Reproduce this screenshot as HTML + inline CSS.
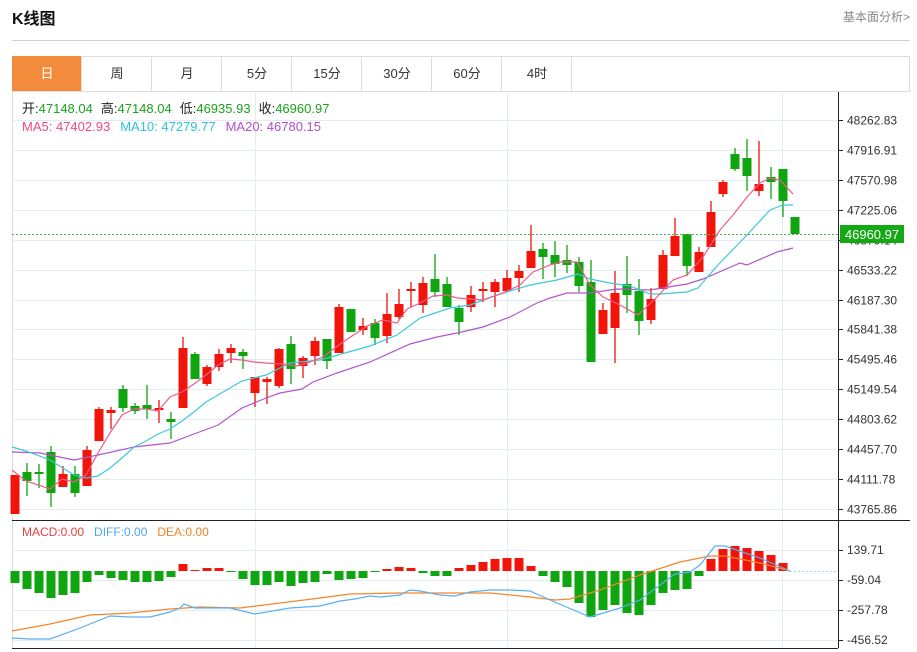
<!DOCTYPE html>
<html><head><meta charset="utf-8">
<style>
body{margin:0;background:#fff;width:917px;height:652px;overflow:hidden;font-family:"Liberation Sans","Noto Sans CJK SC",sans-serif;}
svg{position:absolute;left:0;top:0}
</style></head><body>
<svg id="s" width="917" height="652" xmlns="http://www.w3.org/2000/svg" font-family="Liberation Sans, Noto Sans CJK SC, sans-serif">
<text x="12" y="24" font-size="16" font-weight="bold" fill="#111">K线图</text>
<text x="910" y="21" font-size="12" fill="#888" text-anchor="end">基本面分析&gt;</text>
<line x1="12" y1="40.5" x2="910" y2="40.5" stroke="#d0d0d0"/>
<rect x="12.5" y="56.5" width="897" height="35" fill="#fff" stroke="#ddd"/>
<rect x="12" y="56" width="70" height="35" fill="#f28c3c"/>
<g stroke="#ddd"><line x1="81.5" y1="56" x2="81.5" y2="91"/><line x1="151.5" y1="56" x2="151.5" y2="91"/><line x1="221.5" y1="56" x2="221.5" y2="91"/><line x1="291.5" y1="56" x2="291.5" y2="91"/><line x1="361.5" y1="56" x2="361.5" y2="91"/><line x1="431.5" y1="56" x2="431.5" y2="91"/><line x1="501.5" y1="56" x2="501.5" y2="91"/><line x1="571.5" y1="56" x2="571.5" y2="91"/></g>
<g font-size="13" text-anchor="middle" fill="#333"><text x="47" y="78" fill="#fff">日</text><text x="117" y="78">周</text><text x="187" y="78">月</text><text x="257" y="78">5分</text><text x="327" y="78">15分</text><text x="397" y="78">30分</text><text x="467" y="78">60分</text><text x="537" y="78">4时</text></g>
<line x1="12.5" y1="91" x2="12.5" y2="648" stroke="#ddd"/>
<g id="grid" stroke="#e3ebf3"></g>
<g id="main"></g>
<line x1="12" y1="234.5" x2="838" y2="234.5" stroke="#4caf50" stroke-dasharray="2,2"/>
<line x1="838.5" y1="92" x2="838.5" y2="648" stroke="#222"/>
<line x1="12" y1="520.5" x2="910" y2="520.5" stroke="#222"/>
<line x1="12" y1="648.5" x2="838" y2="648.5" stroke="#222"/>
<g id="ticks" font-size="12" fill="#333"></g>
<rect x="840" y="225" width="64" height="18" fill="#14a814"/>
<text x="872" y="239" font-size="13" fill="#fff" text-anchor="middle">46960.97</text>
<text x="22" y="113" font-size="13" fill="#222">开:<tspan fill="#1aa31a">47148.04</tspan><tspan dx="8">高:</tspan><tspan fill="#1aa31a">47148.04</tspan><tspan dx="8">低:</tspan><tspan fill="#1aa31a">46935.93</tspan><tspan dx="8">收:</tspan><tspan fill="#1aa31a">46960.97</tspan></text>
<text x="22" y="131" font-size="13"><tspan fill="#ee4b7c">MA5: 47402.93</tspan><tspan fill="#2ac3d8" dx="10">MA10: 47279.77</tspan><tspan fill="#b04fc9" dx="10">MA20: 46780.15</tspan></text>
<text x="22" y="536" font-size="12"><tspan fill="#e84040">MACD:0.00</tspan><tspan fill="#4aa8ee" dx="10">DIFF:0.00</tspan><tspan fill="#f0832a" dx="10">DEA:0.00</tspan></text>
</svg>
<script>
var NS="http://www.w3.org/2000/svg";
function el(p,t,a){var e=document.createElementNS(NS,t);for(var k in a)e.setAttribute(k,a[k]);document.getElementById(p).appendChild(e);return e;}
var labels=["48262.83","47916.91","47570.98","47225.06","46879.14","46533.22","46187.30","45841.38","45495.46","45149.54","44803.62","44457.70","44111.78","43765.86"];
for(var i=0;i<14;i++){var y=Math.round(120+i*29.92)+0.5;el("grid","line",{x1:12,y1:y,x2:838,y2:y});el("ticks","line",{x1:838,y1:y,x2:843,y2:y,stroke:"#222"});var t=el("ticks","text",{x:847,y:y+4});t.textContent=labels[i];}
[[550,"139.71"],[580,"-59.04"],[610,"-257.78"],[640,"-456.52"]].forEach(function(m){el("grid","line",{x1:12,y1:m[0]+.5,x2:838,y2:m[0]+.5});el("ticks","line",{x1:838,y1:m[0]+.5,x2:843,y2:m[0]+.5,stroke:"#222"});var t=el("ticks","text",{x:847,y:m[0]+4});t.textContent=m[1];});
[255.5,507.5,782.5].forEach(function(x){el("grid","line",{x1:x,y1:92,x2:x,y2:648});});
var C=[["r",475,514,475,514],["g",472,481,463,496],["g",472,474,464,488],["g",452,493,446,507],["r",474,487,466,487],["g",474,493,466,497],["r",450,486,446,486],["r",409,441,407,441],["r",410,413,407,429],["g",389,408,385,412],["g",406,411,403,414],["g",405,409,385,419],["r",408,410,400,423],["g",419,422,412,439],["r",348,408,337,408],["g",354,379,352,379],["r",367,384,365,386],["r",354,367,349,371],["r",348,353,344,363],["g",352,356,349,369],["r",377,393,377,407],["r",379,382,377,404],["r",349,386,348,388],["g",344,369,336,384],["r",358,366,356,378],["r",341,356,337,365],["g",339,361,339,369],["r",307,353,304,353],["g",309,332,309,332],["r",326,330,318,335],["g",323,338,319,345],["r",314,336,293,343],["r",304,317,289,319],["r",289,291,282,307],["r",283,305,277,313],["g",279,292,254,297],["g",284,307,277,307],["g",308,322,305,335],["r",295,307,286,312],["r",289,291,282,302],["r",282,292,279,307],["r",278,291,270,292],["r",271,278,265,292],["r",251,268,225,268],["g",249,257,243,279],["g",255,264,241,277],["g",260,265,245,273],["g",262,286,257,292],["g",282,362,260,362],["r",310,334,303,334],["r",293,328,271,363],["g",284,295,256,313],["g",291,321,279,335],["r",299,320,288,324],["r",255,289,250,289],["r",236,256,218,256],["g",234,266,234,276],["r",252,272,247,272],["r",212,247,201,247],["r",182,194,180,197],["g",154,169,148,171],["g",158,176,139,191],["r",184,191,141,196],["g",177,182,167,199],["g",169,201,169,217],["g",217,234,217,234]];
C.forEach(function(c,i){var x=15+12*i,col=c[0]=="r"?"#f0140a":"#0ea50e";el("main","line",{x1:x,y1:c[3],x2:x,y2:c[4],stroke:col,"stroke-width":1.3});el("main","rect",{x:x-4.5,y:c[1],width:9,height:Math.max(c[2]-c[1],2),fill:col});});
function pl(pts,col){el("main","polyline",{points:pts,fill:"none",stroke:col,"stroke-width":1.2});}
pl("12,452 40,453 74,460 98,455 134,447 170,443 194,434 218,425 242,408 266,398 280,393 302,389 313,382 337,373 370,362 410,344 437,337 457,333 483,327 510,317 537,303 550,298 567,293 590,293 617,289 650,290 687,284 703,279 740,263 747,265 777,252 793,248","#b455cc");
pl("12,447 26,451 50,460 74,475 86,478 98,476 110,468 122,458 134,447 146,441 158,434 170,429 182,421 194,412 206,402 218,395 230,388 242,381 254,378 266,375 290,363 320,360 370,346 397,335 420,318 450,308 470,305 497,295 530,285 557,280 578,274 590,279 610,283 630,286 650,294 660,294 687,292 698,288 717,266 747,235 770,210 783,205 793,205","#3dc8dd");
pl("12,470 26,481 50,489 62,479 74,482 86,475 98,453 110,433 122,415 134,409 146,409 158,411 170,397 182,392 194,384 206,375 218,365 230,359 242,360 254,362 266,363 283,364 297,366 307,363 323,357 343,342 367,326 383,320 397,323 407,309 420,303 433,296 447,295 457,298 470,299 483,300 503,293 520,285 533,272 550,265 560,262 577,262 590,285 603,297 620,305 638,315 657,297 673,280 687,275 703,257 720,230 733,215 747,197 760,183 770,178 780,180 793,194","#ee5b8a");
var H=[583,589,593,598,595,593,582,575,578,580,582,582,581,577,564,570,568,568,572,579,585,585,582,586,583,582,574,580,579,578,572,569,567,568,573,576,576,568,565,562,559,558,558,566,576,582,587,603,617,610,605,613,615,605,593,590,589,576,559,549,546,548,551,555,563];
H.forEach(function(v,i){var x=15+12*i,up=v<571;el("main","rect",{x:x-4.5,y:Math.min(v,571),width:9,height:Math.max(Math.abs(v-571),1),fill:up?"#f0140a":"#0ea50e"});});
el("main","line",{x1:790,y1:571.5,x2:838,y2:571.5,stroke:"#9cd3ee","stroke-dasharray":"2,2"});
pl("12,631 50,624 90,615 130,613 170,609 200,607 240,608 280,603 320,598 350,594 400,593 450,593 490,593 530,597 555,600 570,599 600,590 640,575 680,562 710,556 725,556 760,563 790,571","#f5852a");
pl("12,638 30,639 50,639 75,630 90,624 110,616 130,617 150,617 170,612 180,608 184,604 195,608 230,608 255,614 290,608 320,606 340,601 355,599 370,596 380,597 400,595 410,590 420,591 440,595 455,596 470,592 490,590 510,590 530,591 550,600 590,617 600,614 620,608 640,600 660,585 675,574 690,572 700,565 715,546 725,546 760,558 790,571","#5ab0f0");
</script>
</body></html>
